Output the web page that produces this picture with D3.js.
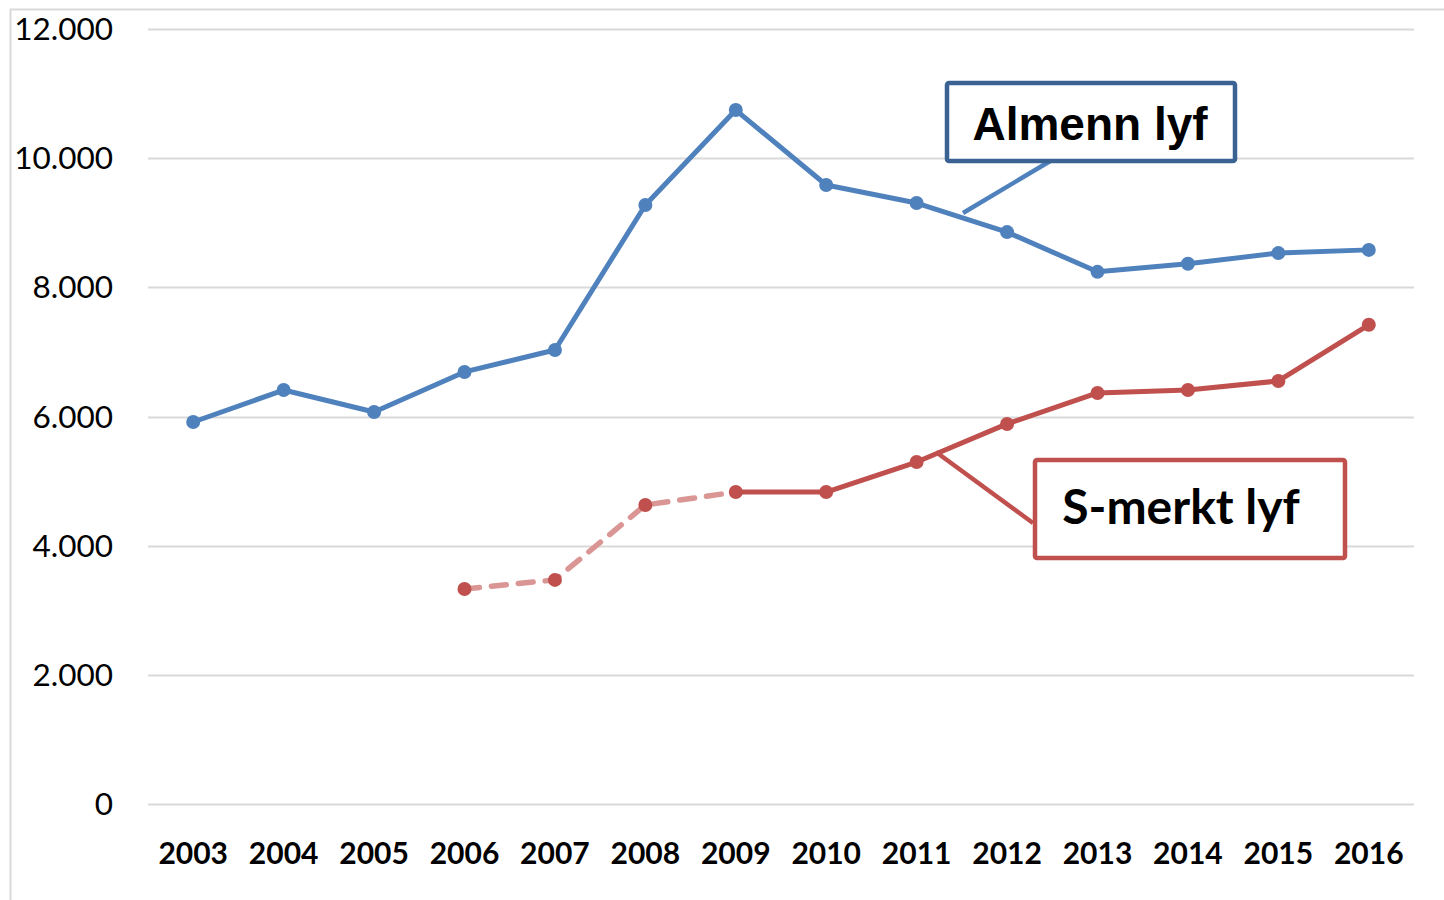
<!DOCTYPE html>
<html>
<head>
<meta charset="utf-8">
<script src="https://cdn.jsdelivr.net/npm/d3@7"></script>
<style>
  body { margin: 0; background: #fff; }
  svg { display: block; }
</style>
</head>
<body>
<div id="chart"></div>
<script>
// data
var years = ["2003", "2004", "2005", "2006", "2007", "2008", "2009", "2010", "2011", "2012", "2013", "2014", "2015", "2016"];
var almenn = [5915, 6410, 6070, 6690, 7030, 9275, 10745, 9585, 9305, 8855, 8240, 8365, 8530, 8580];
var smerkt = [null, null, null, 3330, 3470, 4630, 4830, 4830, 5295, 5885, 6365, 6410, 6550, 7420];
var dashedYears = ["2006", "2007", "2008", "2009"]; // lighter dashed part of S-merkt
var yTicks = [0, 2000, 4000, 6000, 8000, 10000, 12000];

var width = 1444, height = 900;
var margin = {left: 148, right: 30, top: 29, bottom: 96};

var svg = d3.select("#chart").append("svg")
  .attr("width", width)
  .attr("height", height);

// outer frame (runs off the right/bottom edge)
svg.append("rect")
  .attr("x", 10.5).attr("y", 9.5)
  .attr("width", 1460).attr("height", 920)
  .attr("fill", "none")
  .attr("stroke", "#d9d9d9")
  .attr("stroke-width", 2);

var x = d3.scalePoint()
  .domain(years)
  .range([margin.left, width - margin.right])
  .padding(0.5);

var y = d3.scaleLinear()
  .domain([0, 12000])
  .range([height - margin.bottom, margin.top]);

var no = d3.formatLocale({decimal: ",", thousands: ".", grouping: [3], currency: ["", " kr"]});
var fmt = no.format(",");

// gridlines
svg.append("g")
  .selectAll("line")
  .data(yTicks)
  .enter().append("line")
  .attr("x1", margin.left).attr("x2", width - margin.right)
  .attr("y1", function(d) { return Math.round(y(d)) + 0.5; })
  .attr("y2", function(d) { return Math.round(y(d)) + 0.5; })
  .attr("stroke", "#d9d9d9")
  .attr("stroke-width", 2);

// y labels
svg.append("g")
  .selectAll("text")
  .data(yTicks)
  .enter().append("text")
  .attr("x", 113)
  .attr("y", function(d) { return y(d) + 11; })
  .attr("text-anchor", "end")
  .style("font-family", "Lato, 'Open Sans', sans-serif")
  .style("font-size", "31.5px")
  .attr("fill", "#000")
  .text(function(d) { return fmt(d); });

// x labels
svg.append("g")
  .selectAll("text")
  .data(years)
  .enter().append("text")
  .attr("x", function(d) { return x(d); })
  .attr("y", 864)
  .attr("text-anchor", "middle")
  .style("font-family", "Lato, 'Open Sans', sans-serif")
  .style("font-weight", "bold")
  .style("font-size", "30px")
  .attr("fill", "#000")
  .text(function(d) { return d; });

var line = d3.line()
  .defined(function(d) { return d.v != null; })
  .x(function(d) { return x(d.year); })
  .y(function(d) { return y(d.v); });

var blueData = years.map(function(yr, i) { return {year: yr, v: almenn[i]}; });
var redData = years.map(function(yr, i) { return {year: yr, v: smerkt[i]}; });
var redDashed = redData.filter(function(d) { return dashedYears.indexOf(d.year) >= 0; });
var redSolid = redData.filter(function(d) { return d.v != null && +d.year >= 2009; });

var blue = "#4f81bd", red = "#c0504d", redLight = "#d99694";

svg.append("path")
  .attr("d", line(blueData))
  .attr("fill", "none")
  .attr("stroke", blue)
  .attr("stroke-width", 5)
  .attr("stroke-linejoin", "round");

svg.append("path")
  .attr("d", line(redDashed))
  .attr("fill", "none")
  .attr("stroke", redLight)
  .attr("stroke-width", 5.5)
  .attr("stroke-dasharray", "15,12")
  .attr("stroke-linecap", "round");

svg.append("path")
  .attr("d", line(redSolid))
  .attr("fill", "none")
  .attr("stroke", red)
  .attr("stroke-width", 5)
  .attr("stroke-linejoin", "round");

// markers
svg.append("g")
  .selectAll("circle")
  .data(blueData)
  .enter().append("circle")
  .attr("cx", function(d) { return x(d.year); })
  .attr("cy", function(d) { return y(d.v); })
  .attr("r", 7)
  .attr("fill", blue);

svg.append("g")
  .selectAll("circle")
  .data(redData.filter(function(d) { return d.v != null; }))
  .enter().append("circle")
  .attr("cx", function(d) { return x(d.year); })
  .attr("cy", function(d) { return y(d.v); })
  .attr("r", 7)
  .attr("fill", red);

// callout labels
function callout(opts) {
  svg.append("line")
    .attr("x1", opts.lx1).attr("y1", opts.ly1)
    .attr("x2", opts.lx2).attr("y2", opts.ly2)
    .attr("stroke", opts.lineColor)
    .attr("stroke-width", 4.5);
  svg.append("rect")
    .attr("x", opts.x).attr("y", opts.y)
    .attr("width", opts.w).attr("height", opts.h)
    .attr("rx", 2)
    .attr("fill", "#fff")
    .attr("stroke", opts.color)
    .attr("stroke-width", 4.5);
  svg.append("text")
    .attr("x", opts.tx)
    .attr("y", opts.ty)
    .attr("text-anchor", "middle")
    .style("font-family", opts.font)
    .style("font-weight", "bold")
    .style("font-size", opts.size + "px")
    .attr("fill", "#000")
    .text(opts.text);
}

callout({
  text: "Almenn lyf", x: 947, y: 83, w: 288, h: 78, tx: 1090, ty: 140,
  color: "#3a6394", lineColor: blue, font: "'Liberation Sans', Arial, sans-serif", size: 46,
  lx1: 1052, ly1: 160, lx2: 963, ly2: 213
});

callout({
  text: "S-merkt lyf", x: 1035, y: 460, w: 310, h: 98, tx: 1181, ty: 524,
  color: red, lineColor: red, font: "Lato, 'Open Sans', sans-serif", size: 48,
  lx1: 1033, ly1: 523, lx2: 936, ly2: 452
});
</script>
</body>
</html>
